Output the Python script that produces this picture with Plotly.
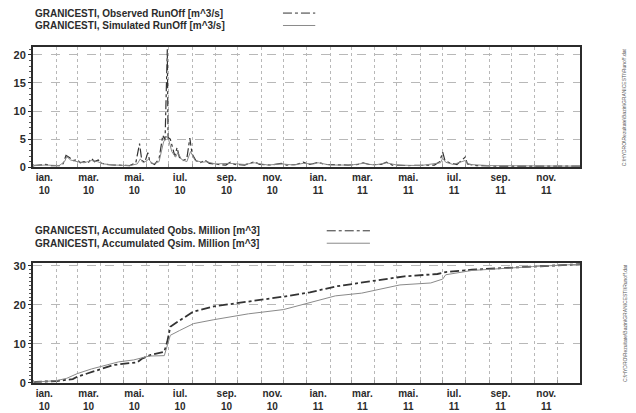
import plotly.graph_objects as go

# ---------------- data ----------------
obs_dates = ["2010-01-01","2010-01-10","2010-01-18","2010-01-25","2010-02-05","2010-02-10","2010-02-14","2010-02-18",
             "2010-02-24","2010-03-01","2010-03-05","2010-03-10","2010-03-15","2010-03-20","2010-03-24","2010-03-29",
             "2010-04-03","2010-04-12","2010-04-25","2010-05-10","2010-05-18","2010-05-23","2010-05-26","2010-05-30",
             "2010-06-03","2010-06-06","2010-06-12","2010-06-18","2010-06-23","2010-06-26","2010-06-29","2010-06-30",
             "2010-07-03","2010-07-06","2010-07-09","2010-07-12","2010-07-15","2010-07-20","2010-07-25","2010-07-29",
             "2010-08-01","2010-08-06","2010-08-12","2010-08-18","2010-08-24","2010-09-05","2010-09-15","2010-09-21",
             "2010-09-27","2010-10-10","2010-10-23","2010-10-30","2010-11-15","2010-11-28","2010-12-05","2010-12-18",
             "2010-12-27","2011-01-05","2011-01-16","2011-01-25","2011-02-10","2011-02-25","2011-03-10","2011-03-17",
             "2011-03-25","2011-04-10","2011-04-17","2011-04-25","2011-05-15","2011-06-07","2011-06-20","2011-06-27",
             "2011-07-01","2011-07-04","2011-07-10","2011-07-20","2011-07-31","2011-08-03","2011-08-15","2011-09-15",
             "2011-10-15","2011-11-15","2011-12-31"]
obs_runoff = [0.3,0.35,0.5,0.3,0.3,0.6,2.1,1.8,
              1.2,1.4,0.8,1.0,0.7,1.6,1.0,1.3,
              0.7,0.45,0.35,0.3,0.8,4.2,1.2,0.9,
              2.6,0.9,0.5,1.5,5.7,4.8,21.0,5.3,
              5.0,3.4,2.0,3.5,1.8,1.2,1.5,5.2,
              2.4,1.2,0.8,1.3,0.7,0.5,0.4,0.9,
              0.5,0.4,1.0,0.5,0.4,0.7,0.4,0.5,
              0.9,0.5,0.9,0.5,0.4,0.4,0.5,0.8,
              0.5,0.5,0.9,0.4,0.3,0.4,0.4,1.0,
              2.7,1.2,0.8,0.5,1.8,0.6,0.3,0.2,
              0.2,0.2,0.2]

sim_dates = ["2010-01-01","2010-01-18","2010-02-05","2010-02-12","2010-02-15","2010-02-20","2010-03-01","2010-03-10",
             "2010-03-20","2010-03-28","2010-04-05","2010-04-20","2010-05-10","2010-05-20","2010-05-24","2010-05-28",
             "2010-06-04","2010-06-10","2010-06-18","2010-06-24","2010-06-28","2010-07-01","2010-07-05","2010-07-10",
             "2010-07-13","2010-07-18","2010-07-25","2010-07-30","2010-08-05","2010-08-15","2010-08-20","2010-09-01",
             "2010-09-20","2010-10-10","2010-10-23","2010-11-10","2010-11-28","2010-12-15","2010-12-27","2011-01-10",
             "2011-01-16","2011-02-01","2011-03-01","2011-03-17","2011-04-01","2011-04-17","2011-05-01","2011-06-01",
             "2011-06-28","2011-07-01","2011-07-05","2011-07-15","2011-07-31","2011-08-05","2011-09-01","2011-12-31"]
sim_runoff = [0.3,0.4,0.3,1.0,1.9,1.3,1.0,0.8,
              1.2,1.0,0.6,0.4,0.3,0.6,1.5,0.8,
              1.4,0.6,1.0,4.5,5.5,4.8,2.8,1.8,
              2.6,1.4,1.0,2.8,1.2,0.9,1.0,0.6,
              0.7,0.5,0.8,0.4,0.6,0.4,0.7,0.6,
              0.8,0.4,0.4,0.7,0.4,0.8,0.4,0.3,
              0.8,1.6,0.9,0.5,1.2,0.5,0.3,0.2]

acc_obs_dates = ["2010-01-01","2010-01-05","2010-02-01","2010-02-23","2010-03-01","2010-03-27","2010-04-18","2010-05-20",
                 "2010-05-27","2010-06-07","2010-06-25","2010-06-29","2010-07-03","2010-07-17","2010-08-03","2010-08-30",
                 "2010-10-15","2010-12-01","2011-01-05","2011-02-08","2011-03-26","2011-05-11","2011-06-24","2011-07-05",
                 "2011-08-09","2011-10-29","2011-12-31"]
acc_obs = [0.1,0.3,0.5,1.0,1.6,3.3,4.6,5.3,
           6.3,7.2,8.0,10.6,14.4,16.2,18.3,19.6,
           20.8,22.1,23.2,24.7,26.0,27.3,27.9,28.4,
           29.0,29.8,30.4]

acc_sim_dates = ["2010-01-01","2010-01-15","2010-02-01","2010-02-15","2010-03-01","2010-03-20","2010-04-10","2010-04-25",
                 "2010-05-15","2010-05-25","2010-06-05","2010-06-25","2010-06-29","2010-07-03","2010-07-15","2010-08-03",
                 "2010-08-30","2010-10-15","2010-12-01","2011-01-05","2011-02-08","2011-03-15","2011-05-05","2011-06-15",
                 "2011-07-01","2011-07-05","2011-08-09","2011-10-29","2011-12-31"]
acc_sim = [0.2,0.3,0.6,1.2,2.4,3.6,4.6,5.4,
           5.9,6.3,6.9,7.0,9.5,12.2,13.4,15.2,
           16.2,17.7,18.8,20.6,22.3,23.0,25.1,25.6,
           26.6,27.7,28.8,29.8,30.4]

tick_dates = ["2010-01-16","2010-03-16","2010-05-16","2010-07-16","2010-09-16","2010-11-16",
              "2011-01-16","2011-03-16","2011-05-16","2011-07-16","2011-09-16","2011-11-16"]
tick_labels = ["ian.<br>10","mar.<br>10","mai.<br>10","iul.<br>10","sep.<br>10","nov.<br>10",
               "ian.<br>11","mar.<br>11","mai.<br>11","iul.<br>11","sep.<br>11","nov.<br>11"]
month_starts = [f"{y}-{m:02d}-01" for y in (2010, 2011) for m in range(1, 13)]

legend_top = ["GRANICESTI, Observed RunOff [m^3/s]", "GRANICESTI, Simulated RunOff [m^3/s]"]
legend_bot = ["GRANICESTI, Accumulated Qobs. Million [m^3]", "GRANICESTI, Accumulated Qsim. Million [m^3]"]
side_text = "C:\\HYDRO\\Rezultate\\Bazin\\GRANICESTI\\Runoff.dat"

# ---------------- styles ----------------
FONT = "Liberation Sans, Arial, sans-serif"
DARK = "#2b2b2b"
OBS_COLOR = "#333333"
SIM_COLOR = "#8a8a8a"
GRID = "#b8b8b8"

fig = go.Figure()
fig.add_trace(go.Scatter(x=obs_dates, y=obs_runoff, mode="lines", xaxis="x", yaxis="y",
                         line=dict(color=OBS_COLOR, width=1.2, dash="dashdot"), showlegend=False))
fig.add_trace(go.Scatter(x=sim_dates, y=sim_runoff, mode="lines", xaxis="x", yaxis="y",
                         line=dict(color=SIM_COLOR, width=1), showlegend=False))
fig.add_trace(go.Scatter(x=acc_obs_dates, y=acc_obs, mode="lines", xaxis="x2", yaxis="y2",
                         line=dict(color=OBS_COLOR, width=1.8, dash="dashdot"), showlegend=False))
fig.add_trace(go.Scatter(x=acc_sim_dates, y=acc_sim, mode="lines", xaxis="x2", yaxis="y2",
                         line=dict(color=SIM_COLOR, width=1), showlegend=False))

YFONT = dict(family=FONT, size=11, color=DARK, weight="bold")
XFONT = dict(family=FONT, size=10, color=DARK, weight="bold")
xcommon = dict(type="date", range=["2010-01-01", "2011-12-31"], tickvals=tick_dates, ticktext=tick_labels,
               showgrid=False, ticks="", showline=True, linecolor=DARK, linewidth=2, mirror=True,
               tickfont=XFONT, zeroline=False, automargin=False,
               minor=dict(tickvals=month_starts, showgrid=True, gridcolor=GRID, griddash="dot", gridwidth=1,
                          ticks="inside", ticklen=3, tickcolor="#999"))
ycommon = dict(showline=True, linecolor=DARK, linewidth=2, mirror=True, ticks="outside", ticklen=3,
               tickcolor=DARK, showgrid=True, gridcolor=GRID, griddash="dash", gridwidth=1, zeroline=False,
               tickfont=YFONT, automargin=False,
               minor=dict(dtick=1, ticks="outside", ticklen=2, tickcolor="#555"))

fig.update_layout(
    width=636, height=413, paper_bgcolor="white", plot_bgcolor="white",
    margin=dict(l=33, r=56, t=47, b=30),
    xaxis=dict(domain=[0, 1], anchor="y", **xcommon),
    yaxis=dict(domain=[0.642, 1.0], anchor="x", range=[0, 21.4], tickvals=[0, 5, 10, 15, 20], **ycommon),
    xaxis2=dict(domain=[0, 1], anchor="y2", **xcommon),
    yaxis2=dict(domain=[0, 0.357], anchor="x2", range=[0, 30.7], tickvals=[0, 10, 20, 30], **ycommon),
)

# legend rows (text + line sample on the right), as in the reference
ann = []
shapes = []
rows = [(legend_top, [1.101, 1.064], [0.457, 0.516]),
        (legend_bot, [0.453, 0.416], [0.537, 0.616])]
for texts, ys, (x0, x1) in rows:
    for i, (t, yy) in enumerate(zip(texts, ys)):
        ann.append(dict(text=t, x=0, y=yy, xref="paper", yref="paper", xanchor="left", yanchor="middle",
                        showarrow=False, font=dict(family=FONT, size=10, color=DARK, weight="bold")))
        shapes.append(dict(type="line", xref="paper", yref="paper", x0=x0, x1=x1, y0=yy, y1=yy,
                           line=dict(color=OBS_COLOR if i == 0 else SIM_COLOR, width=1,
                                     dash="dashdot" if i == 0 else "solid")))
for yy in (0.82, 0.178):
    ann.append(dict(text=side_text, x=1.082, y=yy, xref="paper", yref="paper", xanchor="center",
                    yanchor="middle", textangle=-90, showarrow=False,
                    font=dict(family=FONT, size=5, color="#555")))
fig.update_layout(annotations=ann, shapes=shapes)

fig.write_html("out.html", config={"displayModeBar": False},
               post_script="document.body.style.margin='0';document.body.style.overflow='hidden';")
